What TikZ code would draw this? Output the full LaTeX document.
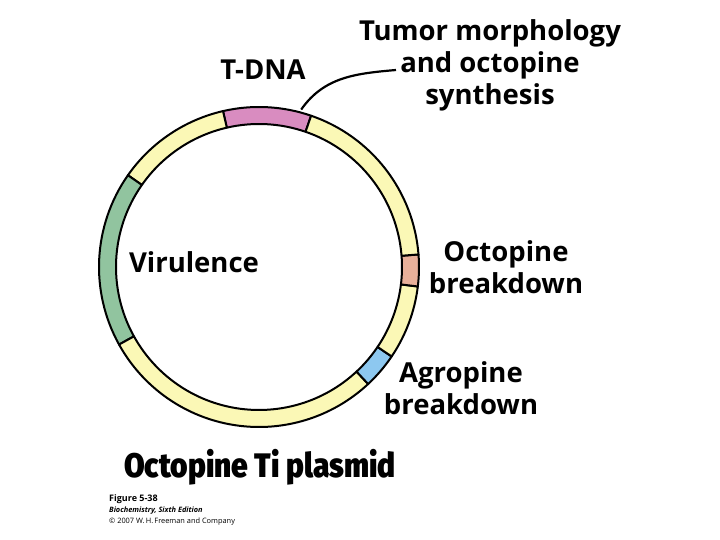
\documentclass[tikz,border=0pt]{standalone}
\usepackage{fontspec}
\setmainfont{Open Sans}
\newfontfamily\headfont{Fira Sans}[BoldFont={Fira Sans Black}]
\usetikzlibrary{positioning}
\definecolor{ringyellow}{HTML}{FBF8B6}
\definecolor{ringpink}{HTML}{D98CC0}
\definecolor{ringgreen}{HTML}{91C49F}
\definecolor{ringorange}{HTML}{E8B09A}
\definecolor{ringblue}{HTML}{8DC8F0}
\tikzset{
  seg/.style={draw=black, line width=2pt, line join=round},
  lbl/.style={font=\bfseries\fontsize{27.5}{32}\selectfont, align=center, inner sep=0pt},
  note/.style={font=\fontsize{7.4}{10}\selectfont, anchor=base west, inner sep=0pt}
}
\begin{document}
\begin{tikzpicture}[x=1pt, y=1pt]
  \useasboundingbox (0,0) rectangle (720,540);
  \coordinate (c) at (259,273);

  % ring segments: start angle / end angle / colour
  \foreach \a/\b/\col in {71/103/ringpink, 103/145/ringyellow, 145/209/ringgreen,
                          209/313/ringyellow, 313/326/ringblue, 326/353/ringyellow,
                          353/364.5/ringorange, 4.5/71/ringyellow}
    \draw[seg, fill=\col] ([shift={(\a:160pt)}]c) arc[start angle=\a, end angle=\b, radius=160pt]
      -- ([shift={(\b:143pt)}]c) arc[start angle=\b, end angle=\a, radius=143pt] -- cycle;

  \coordinate (tdnaend) at ([shift={(75:163pt)}]c);

  \node[lbl, anchor=base] (tdna) at (263,460) {T-DNA};
  \node[lbl, anchor=north] (tumor) at (490,521) {Tumor morphology\\and octopine\\synthesis};
  \node[lbl, anchor=base] (vir) at (194,267) {Virulence};
  \node[lbl, anchor=north] (octo) at (506,300) {Octopine\\breakdown};
  \node[lbl, anchor=north] (agro) at (461,179) {Agropine\\breakdown};
  \coordinate (tumorend) at (396,470);

  \draw[line width=2.2pt] (tdnaend) to[out=55, in=185] (tumorend);

  \node[font=\headfont\bfseries\fontsize{34}{40}\selectfont, anchor=base west, inner sep=0pt] (title)
    at (124,62) {\scalebox{0.88}[1]{Octopine Ti plasmid}};

  \node[note, font=\bfseries\fontsize{9}{10}\selectfont] (fig) at (109,38) {Figure 5-38};
  \node[note] (book) at (109,27) {\bfseries\itshape Biochemistry, Sixth Edition};
  \node[note] (copy) at (109,16) {\textcopyright{} 2007 W.\,H.\,Freeman and Company};
\end{tikzpicture}
\end{document}
